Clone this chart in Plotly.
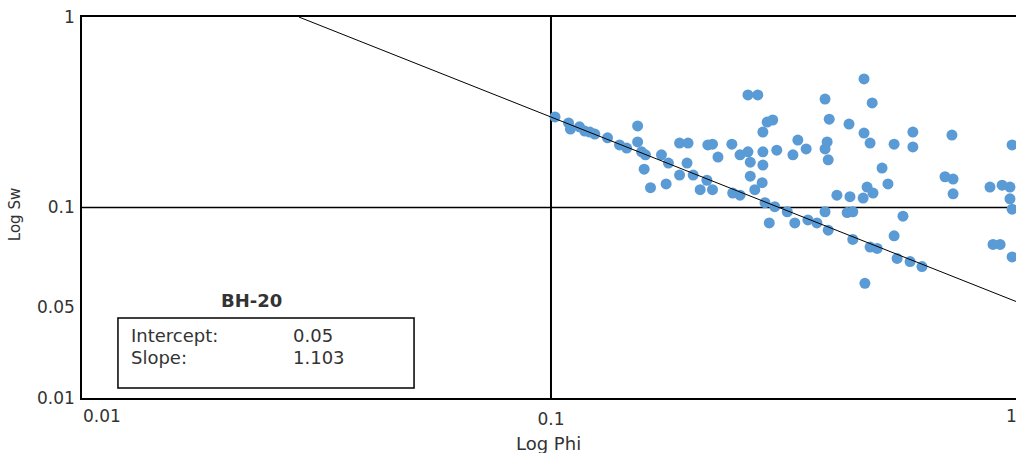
import plotly.graph_objects as go

# Data (porosity Phi vs water saturation Sw)
phi = [0.102, 0.109, 0.110, 0.115, 0.118, 0.121, 0.124, 0.132, 0.140, 0.145,
       0.153, 0.153, 0.156, 0.159, 0.158, 0.163, 0.172, 0.176, 0.178, 0.188,
       0.188, 0.196, 0.195, 0.201, 0.208, 0.215, 0.216, 0.221, 0.243, 0.227,
       0.253, 0.263, 0.266, 0.283, 0.303, 0.283, 0.266, 0.282, 0.272, 0.221,
       0.244, 0.253, 0.263, 0.276, 0.297, 0.289, 0.283, 0.286, 0.300, 0.319,
       0.331, 0.292, 0.353, 0.369, 0.384, 0.390, 0.428, 0.440, 0.407, 0.434,
       0.463, 0.472, 0.486, 0.440, 0.479, 0.496, 0.467, 0.328, 0.336, 0.350,
       0.384, 0.392, 0.388, 0.384, 0.390, 0.432, 0.465, 0.465, 0.479, 0.484,
       0.539, 0.591, 0.591, 0.716, 0.962, 0.508, 0.523, 0.692, 0.720, 0.720,
       0.863, 0.916, 0.952, 0.952, 0.563, 0.539, 0.547, 0.583, 0.618, 0.876,
       0.907, 0.962, 0.962]
sw = [0.299, 0.278, 0.258, 0.265, 0.252, 0.249, 0.243, 0.232, 0.213, 0.205,
      0.268, 0.221, 0.196, 0.189, 0.159, 0.127, 0.189, 0.133, 0.171, 0.148,
      0.218, 0.218, 0.171, 0.148, 0.124, 0.139, 0.213, 0.215, 0.215, 0.184,
      0.189, 0.196, 0.173, 0.196, 0.200, 0.167, 0.146, 0.135, 0.124, 0.124,
      0.119, 0.116, 0.390, 0.390, 0.288, 0.281, 0.249, 0.106, 0.101, 0.095,
      0.083, 0.083, 0.086, 0.083, 0.095, 0.076, 0.094, 0.095, 0.116, 0.114,
      0.112, 0.128, 0.119, 0.068, 0.062, 0.061, 0.040, 0.189, 0.226, 0.203,
      0.371, 0.291, 0.221, 0.203, 0.178, 0.274, 0.473, 0.246, 0.218, 0.354,
      0.215, 0.249, 0.208, 0.240, 0.213, 0.161, 0.133, 0.145, 0.141, 0.118,
      0.128, 0.131, 0.128, 0.111, 0.090, 0.071, 0.054, 0.052, 0.049, 0.064,
      0.064, 0.098, 0.055]

# Regression line end points (as drawn in the reference)
fit_phi = [0.0290, 1.0]
fit_sw = [1.0, 0.0315]

# Reference lines
vline_phi = [0.1, 0.1]
vline_sw = [0.01, 1.0]
hline_phi = [0.01, 1.0]
hline_sw = [0.1, 0.1]

# Tick labels
y_tickvals = [0.01, 0.0302, 0.1, 1]
y_ticktext = ["0.01", "0.05", "0.1", "1"]
x_tickvals = [0.01, 0.1, 1]
x_ticktext = ["", "0.1", ""]

well = "BH-20"
intercept = "0.05"
slope = "1.103"

FONT = "DejaVu Sans"
TXT = "#333333"

fig = go.Figure()
fig.add_trace(go.Scatter(x=vline_phi, y=vline_sw, mode="lines",
                         line=dict(color="#000000", width=2), hoverinfo="skip"))
fig.add_trace(go.Scatter(x=hline_phi, y=hline_sw, mode="lines",
                         line=dict(color="#000000", width=1.5), hoverinfo="skip"))
fig.add_trace(go.Scatter(x=phi, y=sw, mode="markers",
                         marker=dict(color="#5b9bd5", size=11, line=dict(width=0))))
fig.add_trace(go.Scatter(x=fit_phi, y=fit_sw, mode="lines",
                         line=dict(color="#000000", width=1), hoverinfo="skip"))

fig.update_layout(
    width=1016, height=453,
    margin=dict(l=82, r=0, t=17, b=55),
    paper_bgcolor="white", plot_bgcolor="white",
    showlegend=False,
    font=dict(family=FONT, color=TXT, size=16),
    xaxis=dict(type="log", range=[-2, -0.0085], tickvals=x_tickvals, ticktext=x_ticktext,
               showgrid=False, zeroline=False, ticks="",
               showline=True, linecolor="#000000", linewidth=1.5, mirror=True,
               tickfont=dict(family=FONT, size=17, color=TXT), ticklabelstandoff=5),
    yaxis=dict(type="log", range=[-2, 0], tickvals=y_tickvals, ticktext=y_ticktext,
               showgrid=False, zeroline=False, ticks="",
               showline=True, linecolor="#000000", linewidth=1.5, mirror=False,
               tickfont=dict(family=FONT, size=17, color=TXT), ticklabelstandoff=2),
)

fig.add_shape(type="rect", xref="paper", yref="paper",
              x0=0.0385, x1=0.3555, y0=0.026, y1=0.21,
              line=dict(color="#000000", width=1.5), fillcolor="rgba(0,0,0,0)")

ann = [
    dict(text="0.01", x=0.0214, y=-0.047, xanchor="center", yanchor="middle", font=dict(size=17)),
    dict(text="1", x=0.987, y=-0.047, xanchor="left", yanchor="middle", font=dict(size=17)),
    dict(text="Log Phi", x=0.499, y=-0.119, xanchor="center", yanchor="middle", font=dict(size=18)),
    dict(text="Log Sw", x=-0.0717, y=0.48, xanchor="center", yanchor="middle", textangle=-90,
         font=dict(size=15)),
    dict(text="<b>" + well + "</b>", x=0.182, y=0.257, xanchor="center", yanchor="middle",
         font=dict(size=18)),
    dict(text="Intercept:", x=0.0503, y=0.163, xanchor="left", yanchor="middle", font=dict(size=18)),
    dict(text="Slope:", x=0.0503, y=0.106, xanchor="left", yanchor="middle", font=dict(size=18)),
    dict(text=intercept, x=0.2238, y=0.163, xanchor="left", yanchor="middle", font=dict(size=18)),
    dict(text=slope, x=0.2238, y=0.106, xanchor="left", yanchor="middle", font=dict(size=18)),
]
for a in ann:
    f = dict(family=FONT, color=TXT)
    f.update(a.pop("font"))
    fig.add_annotation(xref="paper", yref="paper", showarrow=False, font=f, **a)

fig.write_html("out.html", config={"displayModeBar": False},
               post_script="document.body.style.margin='0';")
